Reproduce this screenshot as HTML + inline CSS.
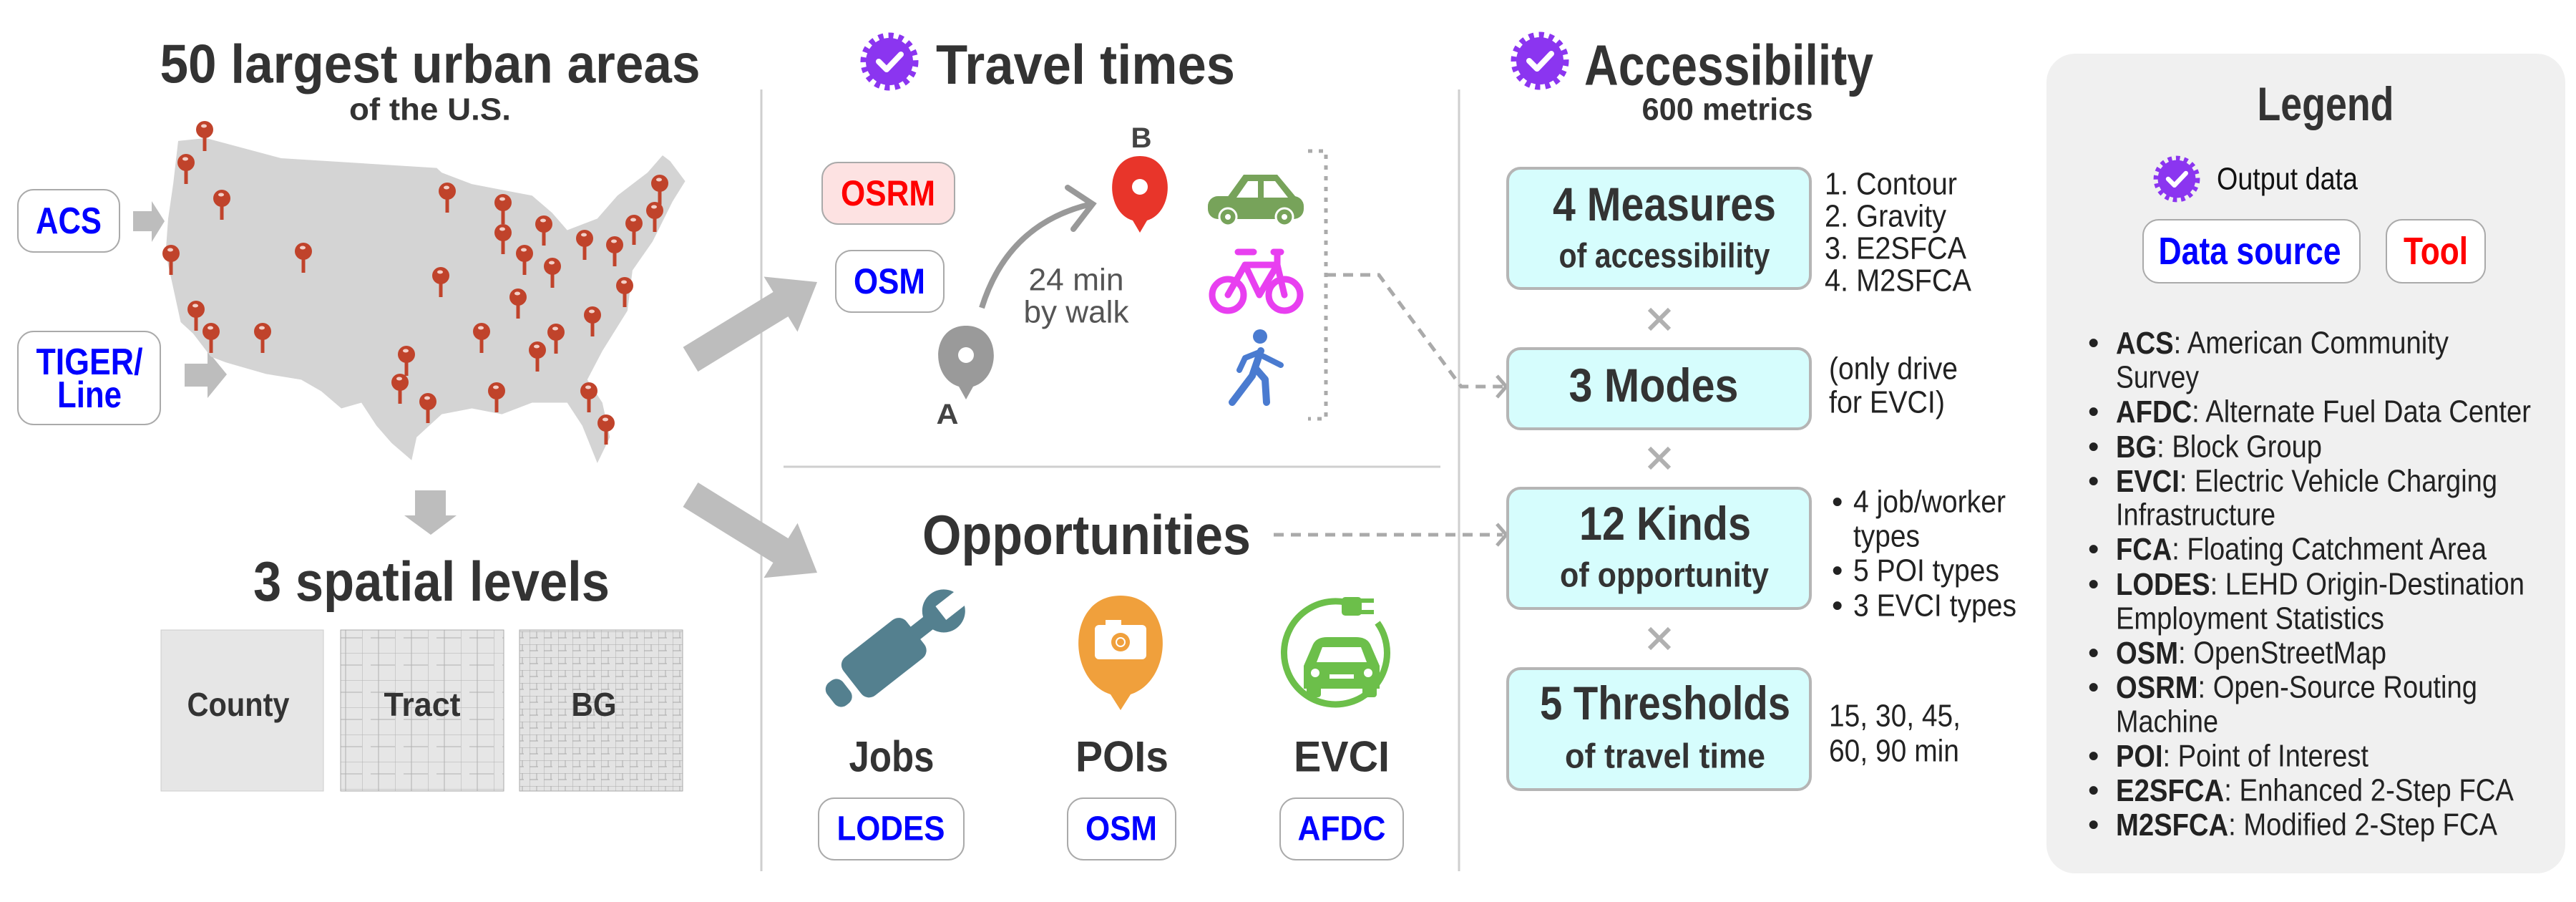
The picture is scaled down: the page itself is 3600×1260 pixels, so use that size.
<!DOCTYPE html>
<html><head><meta charset="utf-8"><style>
html,body{margin:0;padding:0;background:#fff;}
svg{display:block;}
.b{font-family:"Liberation Sans",sans-serif;font-weight:bold;}
.n{font-family:"Liberation Sans Narrow","Liberation Sans",sans-serif;}
</style></head><body>
<svg width="3600" height="1260" viewBox="0 0 3600 1260" xmlns="http://www.w3.org/2000/svg">
<defs>
<g id="badge">
<circle r="33" fill="#8b35f0"/>
<circle r="36" fill="none" stroke="#8b35f0" stroke-width="9" stroke-dasharray="7 7"/>
<path d="M-15,0 L-4,11 L16,-10" fill="none" stroke="#fff" stroke-width="8" stroke-linecap="round" stroke-linejoin="round"/>
</g>
<g id="pin">
<rect x="-2.5" y="0" width="5" height="30" fill="#c0432b"/>
<circle r="12" fill="#c0432b"/>
<ellipse cx="-1" cy="-5" rx="4" ry="2.5" fill="#f3d0c8"/>
</g>
<pattern id="tract" width="46" height="38" patternUnits="userSpaceOnUse">
<rect width="46" height="38" fill="#e6e6e6"/>
<path d="M0,0 H46 M0,0 V38 M12,17 H46 M23,0 V38" stroke="#b0b0b0" stroke-width="1" fill="none"/>
</pattern>
<pattern id="bg" width="20" height="18" patternUnits="userSpaceOnUse">
<rect width="20" height="18" fill="#e3e3e3"/>
<path d="M0,0 H20 M0,0 V18 M10,0 V9 M0,9 H12" stroke="#a8a8a8" stroke-width="0.9" fill="none"/>
</pattern>
</defs>

<line x1="1064" y1="125" x2="1064" y2="1217" stroke="#cfcfcf" stroke-width="3"/>
<line x1="2039" y1="125" x2="2039" y2="1217" stroke="#cfcfcf" stroke-width="3"/>
<line x1="1095" y1="652" x2="2013" y2="652" stroke="#cfcfcf" stroke-width="3"/>

<!-- LEFT -->
<text class="b" x="601" y="90" font-size="76" fill="#333" text-anchor="middle" dominant-baseline="central" textLength="755" lengthAdjust="spacingAndGlyphs">50 largest urban areas</text>
<text class="b" x="601" y="153" font-size="44" fill="#333" text-anchor="middle" dominant-baseline="central" textLength="226" lengthAdjust="spacingAndGlyphs">of the U.S.</text>

<rect x="25" y="265" width="142" height="87" rx="22" fill="#fff" stroke="#aaa" stroke-width="2"/>
<text class="b" x="96" y="309" font-size="52" fill="#0000ff" text-anchor="middle" dominant-baseline="central" textLength="92" lengthAdjust="spacingAndGlyphs">ACS</text>
<rect x="25" y="463" width="199" height="130" rx="22" fill="#fff" stroke="#aaa" stroke-width="2"/>
<text class="b" x="125" y="506" font-size="52" fill="#0000ff" text-anchor="middle" dominant-baseline="central" textLength="149" lengthAdjust="spacingAndGlyphs">TIGER/</text>
<text class="b" x="125" y="552" font-size="52" fill="#0000ff" text-anchor="middle" dominant-baseline="central" textLength="90" lengthAdjust="spacingAndGlyphs">Line</text>

<g fill="#bdbdbd">
<polygon points="186,295 212,295 212,281 230,309 212,338 212,323 186,323"/>
<polygon points="258,508 290,508 290,490 317,523 290,556 290,540 258,540"/>
<polygon points="580,685 623,685 623,720 638,720 602,747 565,720 580,720"/>
<polygon points="954.6,484.9 1080.6,407.9 1067.5,386.5 1142,394 1114.5,463.5 1101.4,442.1 975.4,519.1"/>
<polygon points="975.5,674 1101.5,752 1114.6,730.7 1142,800 1067.4,807.3 1080.5,786 954.5,708"/>
</g>

<g transform="scale(0.7015,0.8036)">
<path fill="#d4d4d4" d="M355,245 L410,240 L560,275 L870,292 L880,300 L940,320 L1000,330 L1060,340 L1100,370 L1130,400 L1190,380 L1230,340 L1290,300 L1320,270 L1335,280 L1365,315 L1340,350 L1300,420 L1260,470 L1250,540 L1200,610 L1170,660 L1200,700 L1215,760 L1190,805 L1160,740 L1130,700 L1060,700 L1000,720 L940,710 L880,720 L830,760 L820,800 L780,770 L750,740 L720,700 L680,710 L640,680 L600,660 L530,650 L450,630 L420,620 L385,580 L360,560 L345,500 L330,440 L335,380 L345,320 Z"/>
</g>
<g>
<use href="#pin" x="286" y="181"/><use href="#pin" x="260" y="227"/><use href="#pin" x="310" y="277"/>
<use href="#pin" x="239" y="354"/><use href="#pin" x="424" y="351"/><use href="#pin" x="274" y="432"/>
<use href="#pin" x="295" y="463"/><use href="#pin" x="367" y="463"/><use href="#pin" x="625" y="267"/>
<use href="#pin" x="703" y="283"/><use href="#pin" x="703" y="325"/><use href="#pin" x="760" y="313"/>
<use href="#pin" x="733" y="354"/><use href="#pin" x="772" y="372"/><use href="#pin" x="616" y="385"/>
<use href="#pin" x="724" y="415"/><use href="#pin" x="817" y="333"/><use href="#pin" x="859" y="342"/>
<use href="#pin" x="886" y="312"/><use href="#pin" x="915" y="294"/><use href="#pin" x="922" y="256"/>
<use href="#pin" x="873" y="399"/><use href="#pin" x="828" y="440"/><use href="#pin" x="673" y="463"/>
<use href="#pin" x="777" y="464"/><use href="#pin" x="751" y="489"/><use href="#pin" x="568" y="495"/>
<use href="#pin" x="559" y="534"/><use href="#pin" x="598" y="561"/><use href="#pin" x="694" y="546"/>
<use href="#pin" x="823" y="546"/><use href="#pin" x="847" y="591"/>
</g>

<text class="b" x="603" y="812" font-size="78" fill="#333" text-anchor="middle" dominant-baseline="central" textLength="498" lengthAdjust="spacingAndGlyphs">3 spatial levels</text>
<rect x="225" y="880" width="227" height="225" fill="#e6e6e6" stroke="#ccc" stroke-width="1"/>
<rect x="476" y="880" width="228" height="225" fill="url(#tract)" stroke="#aaa" stroke-width="1"/>
<rect x="726" y="880" width="228" height="225" fill="url(#bg)" stroke="#aaa" stroke-width="1"/>
<text class="b" x="333" y="984" font-size="46" fill="#333" text-anchor="middle" dominant-baseline="central" textLength="143" lengthAdjust="spacingAndGlyphs">County</text>
<text class="b" x="590" y="984" font-size="46" fill="#333" text-anchor="middle" dominant-baseline="central" textLength="107" lengthAdjust="spacingAndGlyphs">Tract</text>
<text class="b" x="830" y="984" font-size="46" fill="#333" text-anchor="middle" dominant-baseline="central" textLength="63" lengthAdjust="spacingAndGlyphs">BG</text>

<!-- MIDDLE -->
<use href="#badge" x="1243" y="86"/>
<text class="b" x="1308" y="90" font-size="78" fill="#333" dominant-baseline="central" textLength="418" lengthAdjust="spacingAndGlyphs">Travel times</text>

<rect x="1149" y="227" width="185" height="86" rx="22" fill="#fde2e2" stroke="#aaa" stroke-width="2"/>
<text class="b" x="1241" y="270" font-size="50" fill="#ff0000" text-anchor="middle" dominant-baseline="central" textLength="132" lengthAdjust="spacingAndGlyphs">OSRM</text>
<rect x="1168" y="350" width="151" height="86" rx="22" fill="#fff" stroke="#aaa" stroke-width="2"/>
<text class="b" x="1243" y="393" font-size="50" fill="#0000ff" text-anchor="middle" dominant-baseline="central" textLength="100" lengthAdjust="spacingAndGlyphs">OSM</text>

<path d="M1350,558 L1340,540 C1300,528 1300,455 1350,455 C1400,455 1400,528 1360,540 Z" fill="#9a9a9a"/>
<circle cx="1350" cy="496" r="11" fill="#fff"/>
<text class="b" x="1324" y="579" font-size="40" fill="#444" text-anchor="middle" dominant-baseline="central" textLength="31" lengthAdjust="spacingAndGlyphs">A</text>
<path d="M1593,325 L1583,308 C1543,296 1543,218 1593,218 C1643,218 1643,296 1603,308 Z" fill="#e8352a"/>
<circle cx="1593" cy="261" r="11" fill="#fff"/>
<text class="b" x="1595" y="193" font-size="40" fill="#444" text-anchor="middle" dominant-baseline="central" textLength="29" lengthAdjust="spacingAndGlyphs">B</text>
<path d="M1372,430 C1400,340 1460,300 1525,285" fill="none" stroke="#999" stroke-width="8"/>
<polyline points="1492,262 1527,285 1500,320" fill="none" stroke="#999" stroke-width="8" stroke-linecap="round"/>
<text x="1504" y="391" font-family="Liberation Sans,sans-serif" font-size="44" fill="#555" text-anchor="middle" dominant-baseline="central" textLength="133" lengthAdjust="spacingAndGlyphs">24 min</text>
<text x="1504" y="436" font-family="Liberation Sans,sans-serif" font-size="44" fill="#555" text-anchor="middle" dominant-baseline="central" textLength="147" lengthAdjust="spacingAndGlyphs">by walk</text>

<!-- car -->
<g fill="#77a35a">
<polygon points="1712,280 1738,244 1785,244 1815,280"/>
<rect x="1688" y="274" width="134" height="32" rx="14"/>
</g>
<polygon points="1728,276 1744,253 1758,253 1758,276" fill="#fff"/>
<polygon points="1766,253 1782,253 1800,276 1766,276" fill="#fff"/>
<circle cx="1716" cy="303" r="12" fill="#77a35a" stroke="#fff" stroke-width="3"/><circle cx="1716" cy="303" r="4" fill="#fff"/>
<circle cx="1795" cy="303" r="12" fill="#77a35a" stroke="#fff" stroke-width="3"/><circle cx="1795" cy="303" r="4" fill="#fff"/>
<!-- bike -->
<g fill="none" stroke="#e83ff0" stroke-width="9" stroke-linecap="round" stroke-linejoin="round">
<circle cx="1716" cy="412" r="22"/><circle cx="1795" cy="412" r="22"/>
<polyline points="1716,412 1740,370 1785,370 1795,412"/><polyline points="1740,370 1760,412 1785,370"/>
<line x1="1730" y1="352" x2="1752" y2="352"/><line x1="1780" y1="352" x2="1790" y2="352"/><line x1="1785" y1="352" x2="1785" y2="372"/>
</g>
<g fill="#4a7bd0" stroke="#4a7bd0" stroke-linecap="round" stroke-linejoin="round">
<circle cx="1761" cy="470" r="10" stroke="none"/>
<polyline points="1762,490 1750,525 1722,562" fill="none" stroke-width="10"/>
<polyline points="1755,515 1768,530 1770,562" fill="none" stroke-width="10"/>
<polyline points="1760,492 1740,500 1732,517" fill="none" stroke-width="8"/>
<polyline points="1766,498 1790,510" fill="none" stroke-width="8"/>
</g>
<polyline points="1828,211 1853,211 1853,585 1828,585" fill="none" stroke="#aaa" stroke-width="5" stroke-dasharray="6 9"/>
<polyline points="1853,384 1927,384 2042,540 2100,540" fill="none" stroke="#aaa" stroke-width="5" stroke-dasharray="14 10"/>
<polyline points="2092,525 2105,540 2092,555" fill="none" stroke="#aaa" stroke-width="5"/>

<text class="b" x="1289" y="747" font-size="78" fill="#333" dominant-baseline="central" textLength="459" lengthAdjust="spacingAndGlyphs">Opportunities</text>
<line x1="1780" y1="747" x2="2100" y2="747" stroke="#aaa" stroke-width="5" stroke-dasharray="14 10"/>
<polyline points="2092,732 2105,747 2092,762" fill="none" stroke="#aaa" stroke-width="5"/>

<!-- jobs icon -->
<g fill="#54808f" transform="translate(1240,915) rotate(-38)">
<rect x="-62" y="-34" width="112" height="68" rx="14"/>
<rect x="-100" y="-20" width="28" height="40" rx="12"/>
<rect x="45" y="-11" width="45" height="22"/>
<circle cx="100" cy="0" r="30"/>
<rect x="95" y="-12" width="40" height="24" fill="#fff"/>
</g>
<!-- POI icon -->
<path d="M1566,992 L1552,970 C1490,950 1490,832 1566,832 C1642,832 1642,950 1580,970 Z" fill="#f0a03c"/>
<rect x="1530" y="873" width="72" height="48" rx="6" fill="#fff"/>
<rect x="1545" y="866" width="22" height="10" fill="#fff"/>
<circle cx="1566" cy="897" r="13" fill="#f0a03c"/><circle cx="1566" cy="897" r="7" fill="#fff"/><circle cx="1566" cy="897" r="5" fill="#f0a03c"/>
<!-- EVCI icon -->
<path d="M1893,845 A72,72 0 1,0 1925,870" fill="none" stroke="#6cbf4a" stroke-width="9"/>
<g fill="#6cbf4a">
<rect x="1875" y="834" width="28" height="26" rx="5"/>
<rect x="1902" y="836" width="18" height="6"/><rect x="1902" y="852" width="18" height="6"/>
<path d="M1822,930 L1835,900 Q1840,890 1855,890 L1895,890 Q1910,890 1915,900 L1928,930 L1928,962 L1822,962 Z"/>
<rect x="1826" y="958" width="20" height="16" rx="4"/><rect x="1904" y="958" width="20" height="16" rx="4"/>
</g>
<path d="M1840,925 L1848,904 L1902,904 L1910,925 Z" fill="#fff"/>
<circle cx="1838" cy="940" r="6" fill="#fff"/><circle cx="1912" cy="940" r="6" fill="#fff"/>
<rect x="1858" y="942" width="34" height="6" fill="#fff"/>

<text class="b" x="1246" y="1057" font-size="60" fill="#333" text-anchor="middle" dominant-baseline="central" textLength="119" lengthAdjust="spacingAndGlyphs">Jobs</text>
<text class="b" x="1568" y="1057" font-size="60" fill="#333" text-anchor="middle" dominant-baseline="central" textLength="130" lengthAdjust="spacingAndGlyphs">POIs</text>
<text class="b" x="1875" y="1057" font-size="60" fill="#333" text-anchor="middle" dominant-baseline="central" textLength="134" lengthAdjust="spacingAndGlyphs">EVCI</text>
<rect x="1144" y="1115" width="203" height="86" rx="22" fill="#fff" stroke="#aaa" stroke-width="2"/>
<text class="b" x="1245" y="1158" font-size="48" fill="#0000ff" text-anchor="middle" dominant-baseline="central" textLength="151" lengthAdjust="spacingAndGlyphs">LODES</text>
<rect x="1492" y="1115" width="151" height="86" rx="22" fill="#fff" stroke="#aaa" stroke-width="2"/>
<text class="b" x="1567" y="1158" font-size="48" fill="#0000ff" text-anchor="middle" dominant-baseline="central" textLength="100" lengthAdjust="spacingAndGlyphs">OSM</text>
<rect x="1789" y="1115" width="172" height="86" rx="22" fill="#fff" stroke="#aaa" stroke-width="2"/>
<text class="b" x="1875" y="1158" font-size="48" fill="#0000ff" text-anchor="middle" dominant-baseline="central" textLength="123" lengthAdjust="spacingAndGlyphs">AFDC</text>

<!-- RIGHT -->
<use href="#badge" x="2152" y="85"/>
<text class="n" font-weight="bold" x="2214" y="91" font-size="80" fill="#333" dominant-baseline="central" textLength="404" lengthAdjust="spacingAndGlyphs">Accessibility</text>
<text class="n" font-weight="bold" x="2414" y="153" font-size="44" fill="#333" text-anchor="middle" dominant-baseline="central" textLength="239" lengthAdjust="spacingAndGlyphs">600 metrics</text>

<g fill="#d6fdfd" stroke="#b5b5b5" stroke-width="4">
<rect x="2107" y="235" width="423" height="168" rx="18"/>
<rect x="2107" y="487" width="423" height="112" rx="18"/>
<rect x="2107" y="682" width="423" height="168" rx="18"/>
<rect x="2107" y="934" width="423" height="169" rx="18"/>
</g>
<g class="n" font-weight="bold" fill="#333" text-anchor="middle" dominant-baseline="central">
<text x="2326" y="285" font-size="66" textLength="312" lengthAdjust="spacingAndGlyphs">4 Measures</text>
<text x="2326" y="358" font-size="48" textLength="295" lengthAdjust="spacingAndGlyphs">of accessibility</text>
<text x="2311" y="538" font-size="66" textLength="237" lengthAdjust="spacingAndGlyphs">3 Modes</text>
<text x="2327" y="731" font-size="66" textLength="240" lengthAdjust="spacingAndGlyphs">12 Kinds</text>
<text x="2326" y="804" font-size="48" textLength="292" lengthAdjust="spacingAndGlyphs">of opportunity</text>
<text x="2327" y="982" font-size="66" textLength="350" lengthAdjust="spacingAndGlyphs">5 Thresholds</text>
<text x="2327" y="1057" font-size="48" textLength="280" lengthAdjust="spacingAndGlyphs">of travel time</text>
</g>
<g stroke="#b0b0b0" stroke-width="6">
<path d="M2305,432 L2333,460 M2333,432 L2305,460"/>
<path d="M2305,626 L2333,654 M2333,626 L2305,654"/>
<path d="M2305,878 L2333,906 M2333,878 L2305,906"/>
</g>
<g class="n" fill="#222" font-size="44" dominant-baseline="central">
<text x="2550" y="257" textLength="185" lengthAdjust="spacingAndGlyphs">1. Contour</text>
<text x="2550" y="302" textLength="170" lengthAdjust="spacingAndGlyphs">2. Gravity</text>
<text x="2550" y="347" textLength="198" lengthAdjust="spacingAndGlyphs">3. E2SFCA</text>
<text x="2550" y="392" textLength="205" lengthAdjust="spacingAndGlyphs">4. M2SFCA</text>
<text x="2556" y="515" textLength="180" lengthAdjust="spacingAndGlyphs">(only drive</text>
<text x="2556" y="562" textLength="162" lengthAdjust="spacingAndGlyphs">for EVCI)</text>
<text x="2560" y="701">•</text><text x="2590" y="701" textLength="213" lengthAdjust="spacingAndGlyphs">4 job/worker</text>
<text x="2590" y="749" textLength="93" lengthAdjust="spacingAndGlyphs">types</text>
<text x="2560" y="797">•</text><text x="2590" y="797" textLength="204" lengthAdjust="spacingAndGlyphs">5 POI types</text>
<text x="2560" y="846">•</text><text x="2590" y="846" textLength="228" lengthAdjust="spacingAndGlyphs">3 EVCI types</text>
<text x="2556" y="1000" textLength="184" lengthAdjust="spacingAndGlyphs">15, 30, 45,</text>
<text x="2556" y="1049" textLength="182" lengthAdjust="spacingAndGlyphs">60, 90 min</text>
</g>

<rect x="2860" y="75" width="725" height="1145" rx="40" fill="#f0f0f0"/>
<text class="n" font-weight="bold" x="3250" y="145" font-size="66" fill="#333" text-anchor="middle" dominant-baseline="central" textLength="191" lengthAdjust="spacingAndGlyphs">Legend</text>
<use href="#badge" transform="translate(3042,250) scale(0.8)"/>
<text class="n" x="3098" y="250" font-size="44" fill="#111" dominant-baseline="central" textLength="197" lengthAdjust="spacingAndGlyphs">Output data</text>
<rect x="2995" y="307" width="303" height="88" rx="22" fill="#fff" stroke="#aaa" stroke-width="2"/>
<text class="n" font-weight="bold" x="3144" y="351" font-size="54" fill="#0000ff" text-anchor="middle" dominant-baseline="central" textLength="255" lengthAdjust="spacingAndGlyphs">Data source</text>
<rect x="3335" y="307" width="138" height="88" rx="22" fill="#fff" stroke="#aaa" stroke-width="2"/>
<text class="n" font-weight="bold" x="3404" y="351" font-size="54" fill="#ff0000" text-anchor="middle" dominant-baseline="central" textLength="90" lengthAdjust="spacingAndGlyphs">Tool</text>

<g class="n" font-size="44" fill="#222" dominant-baseline="central">
<g><text x="2918" y="479">•</text><text x="2918" y="575">•</text><text x="2918" y="624">•</text><text x="2918" y="672">•</text><text x="2918" y="767">•</text><text x="2918" y="816">•</text><text x="2918" y="912">•</text><text x="2918" y="960">•</text><text x="2918" y="1056">•</text><text x="2918" y="1104">•</text><text x="2918" y="1152">•</text></g>
<text x="2957" y="479" textLength="465" lengthAdjust="spacingAndGlyphs"><tspan font-weight="bold">ACS</tspan>: American Community</text>
<text x="2957" y="527" textLength="116" lengthAdjust="spacingAndGlyphs">Survey</text>
<text x="2957" y="575" textLength="580" lengthAdjust="spacingAndGlyphs"><tspan font-weight="bold">AFDC</tspan>: Alternate Fuel Data Center</text>
<text x="2957" y="624" textLength="288" lengthAdjust="spacingAndGlyphs"><tspan font-weight="bold">BG</tspan>: Block Group</text>
<text x="2957" y="672" textLength="533" lengthAdjust="spacingAndGlyphs"><tspan font-weight="bold">EVCI</tspan>: Electric Vehicle Charging</text>
<text x="2957" y="719" textLength="223" lengthAdjust="spacingAndGlyphs">Infrastructure</text>
<text x="2957" y="767" textLength="518" lengthAdjust="spacingAndGlyphs"><tspan font-weight="bold">FCA</tspan>: Floating Catchment Area</text>
<text x="2957" y="816" textLength="571" lengthAdjust="spacingAndGlyphs"><tspan font-weight="bold">LODES</tspan>: LEHD Origin-Destination</text>
<text x="2957" y="864" textLength="375" lengthAdjust="spacingAndGlyphs">Employment Statistics</text>
<text x="2957" y="912" textLength="378" lengthAdjust="spacingAndGlyphs"><tspan font-weight="bold">OSM</tspan>: OpenStreetMap</text>
<text x="2957" y="960" textLength="505" lengthAdjust="spacingAndGlyphs"><tspan font-weight="bold">OSRM</tspan>: Open-Source Routing</text>
<text x="2957" y="1008" textLength="143" lengthAdjust="spacingAndGlyphs">Machine</text>
<text x="2957" y="1056" textLength="353" lengthAdjust="spacingAndGlyphs"><tspan font-weight="bold">POI</tspan>: Point of Interest</text>
<text x="2957" y="1104" textLength="556" lengthAdjust="spacingAndGlyphs"><tspan font-weight="bold">E2SFCA</tspan>: Enhanced 2-Step FCA</text>
<text x="2957" y="1152" textLength="533" lengthAdjust="spacingAndGlyphs"><tspan font-weight="bold">M2SFCA</tspan>: Modified 2-Step FCA</text>
</g>
</svg>
</body></html>
